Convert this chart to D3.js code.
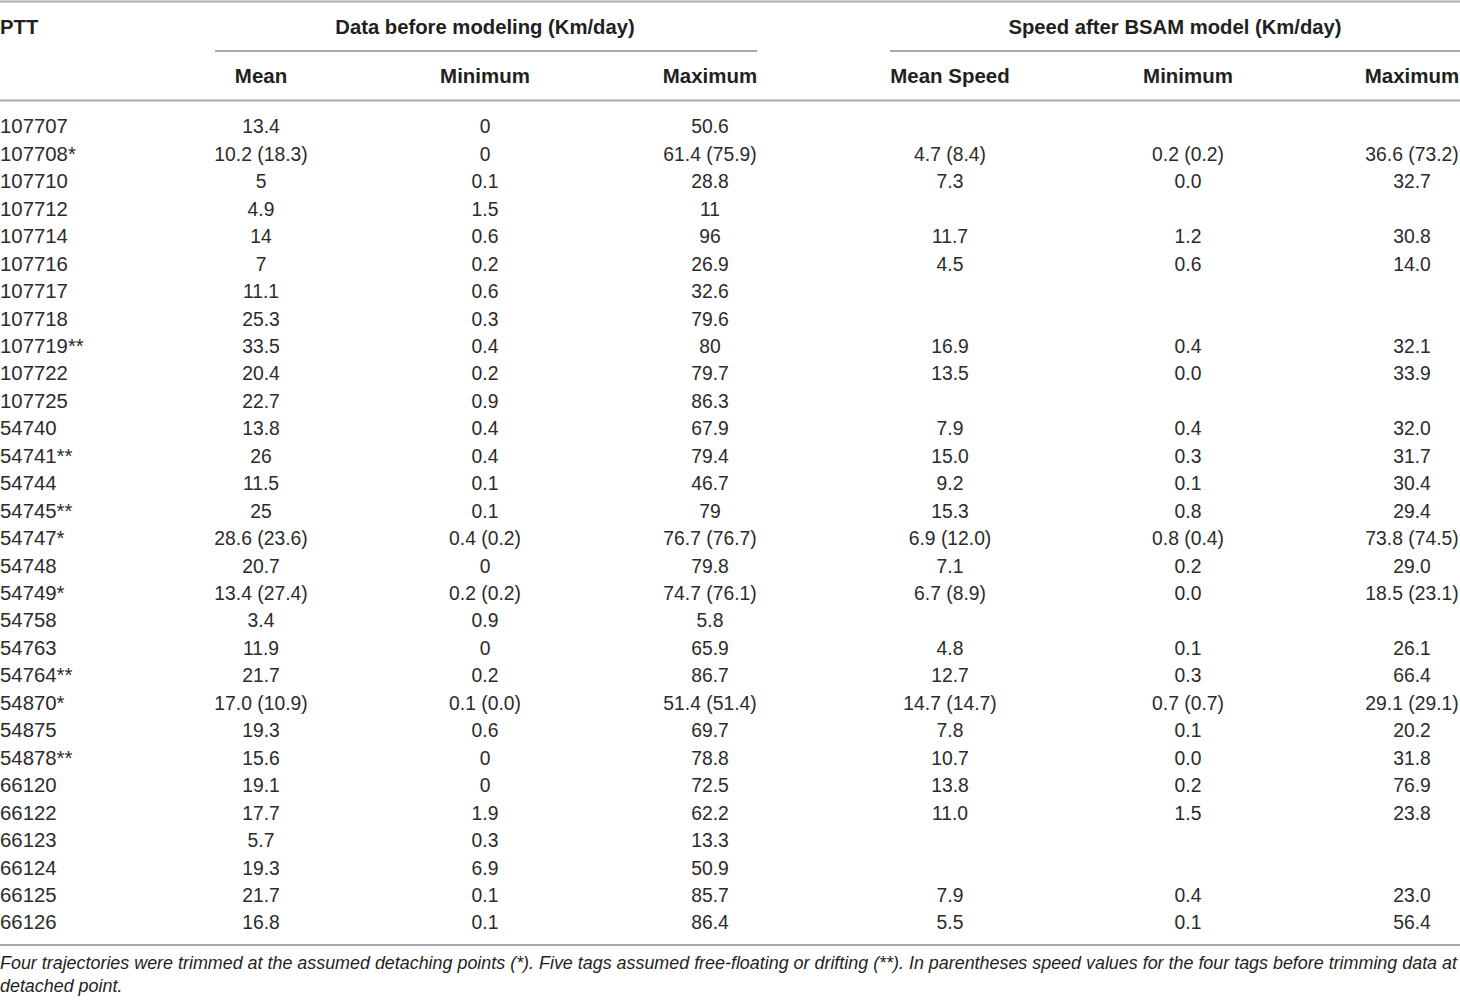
<!DOCTYPE html>
<html>
<head>
<meta charset="utf-8">
<script src="https://cdn.jsdelivr.net/npm/d3@7"></script>
<style>
  body { margin: 0; background: #fff; }
  svg text { font-family: "Liberation Sans", Arial, sans-serif; fill: #231f20; }
  .head { font-weight: bold; }
  .note { font-style: italic; }
</style>
</head>
<body>
<svg id="chart" width="1460" height="1003"></svg>
<script>
// table content
const ptt = ["107707", "107708*", "107710", "107712", "107714", "107716", "107717", "107718", "107719**", "107722",
    "107725", "54740", "54741**", "54744", "54745**", "54747*", "54748", "54749*", "54758", "54763",
    "54764**", "54870*", "54875", "54878**", "66120", "66122", "66123", "66124", "66125", "66126"];

const beforeMean = ["13.4", "10.2 (18.3)", "5", "4.9", "14", "7", "11.1", "25.3", "33.5", "20.4",
    "22.7", "13.8", "26", "11.5", "25", "28.6 (23.6)", "20.7", "13.4 (27.4)", "3.4", "11.9",
    "21.7", "17.0 (10.9)", "19.3", "15.6", "19.1", "17.7", "5.7", "19.3", "21.7", "16.8"];
const beforeMin = ["0", "0", "0.1", "1.5", "0.6", "0.2", "0.6", "0.3", "0.4", "0.2",
    "0.9", "0.4", "0.4", "0.1", "0.1", "0.4 (0.2)", "0", "0.2 (0.2)", "0.9", "0",
    "0.2", "0.1 (0.0)", "0.6", "0", "0", "1.9", "0.3", "6.9", "0.1", "0.1"];
const beforeMax = ["50.6", "61.4 (75.9)", "28.8", "11", "96", "26.9", "32.6", "79.6", "80", "79.7",
    "86.3", "67.9", "79.4", "46.7", "79", "76.7 (76.7)", "79.8", "74.7 (76.1)", "5.8", "65.9",
    "86.7", "51.4 (51.4)", "69.7", "78.8", "72.5", "62.2", "13.3", "50.9", "85.7", "86.4"];

const bsamMean = ["", "4.7 (8.4)", "7.3", "", "11.7", "4.5", "", "", "16.9", "13.5",
    "", "7.9", "15.0", "9.2", "15.3", "6.9 (12.0)", "7.1", "6.7 (8.9)", "", "4.8",
    "12.7", "14.7 (14.7)", "7.8", "10.7", "13.8", "11.0", "", "", "7.9", "5.5"];
const bsamMin = ["", "0.2 (0.2)", "0.0", "", "1.2", "0.6", "", "", "0.4", "0.0",
    "", "0.4", "0.3", "0.1", "0.8", "0.8 (0.4)", "0.2", "0.0", "", "0.1",
    "0.3", "0.7 (0.7)", "0.1", "0.0", "0.2", "1.5", "", "", "0.4", "0.1"];
const bsamMax = ["", "36.6 (73.2)", "32.7", "", "30.8", "14.0", "", "", "32.1", "33.9",
    "", "32.0", "31.7", "30.4", "29.4", "73.8 (74.5)", "29.0", "18.5 (23.1)", "", "26.1",
    "66.4", "29.1 (29.1)", "20.2", "31.8", "76.9", "23.8", "", "", "23.0", "56.4"];

const columns = ["PTT", "Mean", "Minimum", "Maximum", "Mean Speed", "Minimum ", "Maximum "];
const groups = ["Data before modeling (Km/day)", "Speed after BSAM model (Km/day)"];
const footnote = [
    "Four trajectories were trimmed at the assumed detaching points (*). Five tags assumed free-floating or drifting (**). In parentheses speed values for the four tags before trimming data at",
    "detached point."
];

const columnValues = [ptt, beforeMean, beforeMin, beforeMax, bsamMean, bsamMin, bsamMax];

const svg = d3.select("#chart");
const ruleColor = "#a7a9ac";
const squeeze = 0.92;   // the source face is a condensed one

const x = d3.scaleOrdinal()
    .domain(columns)
    .range([0, 261, 485, 710, 950, 1188, 1412]);

const y = d3.scaleBand()
    .domain(d3.range(ptt.length))
    .range([112.3, 935.8]);

// horizontal rules
const rules = [
    {x1: 0, x2: 1460, y: 1.5},
    {x1: 215, x2: 757, y: 51},
    {x1: 890, x2: 1460, y: 51},
    {x1: 0, x2: 1460, y: 100.5},
    {x1: 0, x2: 1460, y: 945}
];
svg.selectAll("line.rule")
    .data(rules)
    .join("line")
    .attr("class", "rule")
    .attr("x1", d => d.x1)
    .attr("x2", d => d.x2)
    .attr("y1", d => d.y)
    .attr("y2", d => d.y)
    .attr("stroke", ruleColor)
    .attr("stroke-width", 2);

// group headers
svg.selectAll("text.group")
    .data(groups)
    .join("text")
    .attr("class", "group head")
    .attr("transform", (d, i) => `translate(${i === 0 ? 485 : 1175},27) scale(0.965,1)`)
    .attr("dy", "0.35em")
    .attr("text-anchor", "middle")
    .style("font-size", "21px")
    .text(d => d);

svg.append("text")
    .attr("class", "head")
    .attr("transform", "translate(0,27) scale(0.965,1)")
    .attr("dy", "0.35em")
    .style("font-size", "21px")
    .text("PTT");

// column headers
svg.selectAll("text.colhead")
    .data(columns.slice(1))
    .join("text")
    .attr("class", "colhead head")
    .attr("transform", d => `translate(${x(d)},76) scale(0.975,1)`)
    .attr("dy", "0.35em")
    .attr("text-anchor", "middle")
    .style("font-size", "21px")
    .text(d => d.trim());

// body cells
const cols = svg.selectAll("g.col")
    .data(columns)
    .join("g")
    .attr("class", "col");

cols.selectAll("text")
    .data((c, ci) => columnValues[ci].map((v, ri) => ({v, ri, ci, c})))
    .join("text")
    .attr("transform", d => `translate(${x(d.c)},${y(d.ri) + y.bandwidth() / 2}) scale(${d.ci === 0 ? 0.97 : squeeze},1)`)
    .attr("dy", "0.35em")
    .attr("text-anchor", d => d.ci === 0 ? "start" : "middle")
    .style("font-size", "21px")
    .style("fill", "#2b2b2b")
    .text(d => d.v);

// footnote
svg.selectAll("text.note")
    .data(footnote)
    .join("text")
    .attr("class", "note")
    .attr("transform", (d, i) => `translate(0,${963 + i * 23}) scale(0.995,1)`)
    .attr("dy", "0.35em")
    .style("font-size", "18px")
    .text(d => d);
</script>
</body>
</html>
